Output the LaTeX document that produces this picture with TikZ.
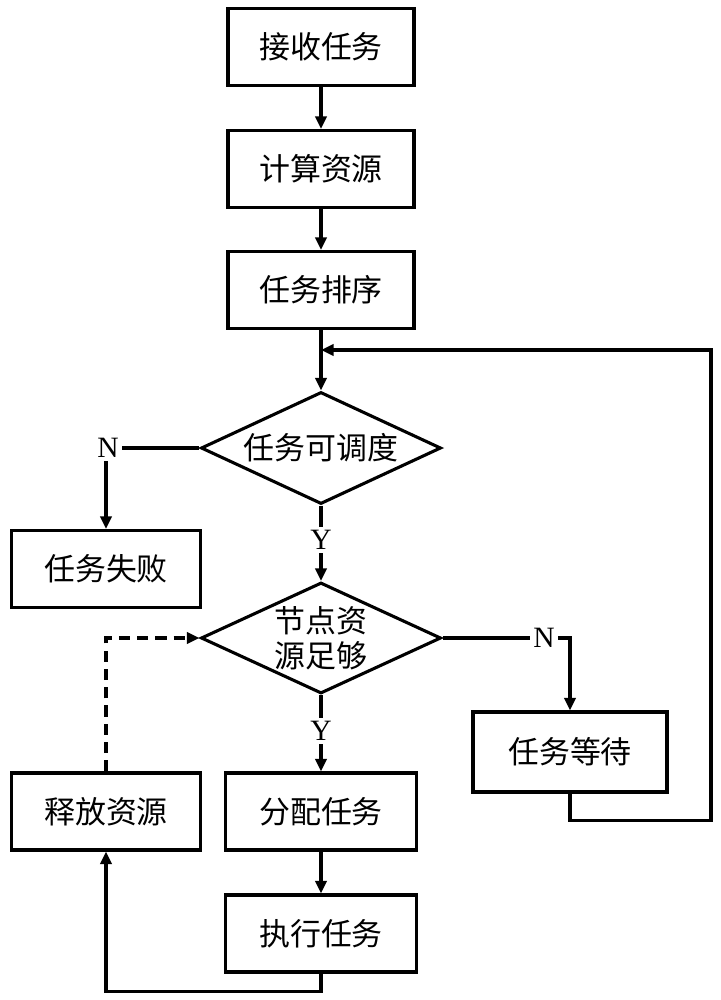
\documentclass[tikz,border=0pt]{standalone}
\usepackage{fontspec}
\usetikzlibrary{shapes.geometric,arrows.meta}
\newfontfamily\cjk{Noto Sans CJK SC}
\newfontfamily\labfont{Liberation Serif}

\begin{document}
\begin{tikzpicture}[x=0.025cm,y=-0.025cm,line width=2.2pt,
  box/.style={draw,rectangle,minimum width=4.65cm,minimum height=1.925cm,inner sep=0pt,
    font=\cjk\fontsize{22}{26}\selectfont},
  decide/.style={draw,diamond,aspect=2.16,minimum width=6cm,minimum height=2.8cm,inner sep=0pt,
    align=center,font=\cjk\fontsize{22}{25}\selectfont},
  yn/.style={inner sep=1.5pt,font=\labfont\fontsize{21}{21}\selectfont},
  arr/.style={-{Triangle[length=9pt,width=8pt]}},
  dash line/.style={dash pattern=on 8pt off 5pt}]
\useasboundingbox (0,0) rectangle (721,1000);
% main column
\node[box] (recv) at (321,47) {接收任务};
\node[box] (calc) at (321,169) {计算资源};
\node[box] (sort) at (321,290) {任务排序};
\node[decide] (sched) at (321,448) {任务可调度};
\node[decide,minimum height=2.775cm] (enough) at (321,638) {节点资\\源足够};
\node[box,minimum width=4.775cm] (alloc) at (321,811.5) {分配任务};
\node[box,minimum width=4.775cm] (exec) at (321,933.5) {执行任务};
% side boxes
\node[box,minimum width=4.725cm] (fail) at (106,569) {任务失败};
\node[box,minimum width=4.85cm,minimum height=2cm] (wait) at (570,752) {任务等待};
\node[box,minimum width=4.725cm] (release) at (106,811.5) {释放资源};
% labels
\node[yn] (n1) at (108,448) {N};
\node[yn] (y1) at (321,540) {Y};
\node[yn] (n2) at (544,638) {N};
\node[yn] (y2) at (321,731) {Y};
\coordinate (loopin) at (321,350);
\coordinate (loopcorner) at (711,350);
% connectors
\draw[arr] (recv) -- (calc);
\draw[arr] (calc) -- (sort);
\draw[arr] (sort) -- (sched);
\draw[arr] (wait.south) -- ++(0,27) -| (loopcorner) -- (loopin);
\draw (sched.west) -- (n1.east);
\draw[arr] (n1.south -| fail.north) -- (fail.north);
\draw (sched.south) -- (y1.north);
\draw[arr] (y1.south) -- (enough.north);
\draw (enough.east) -- (n2.west);
\draw[arr] (n2.east) -| (wait.north);
\draw (enough.south) -- (y2.north);
\draw[arr] (y2.south) -- (alloc.north);
\draw[arr] (alloc) -- (exec);
\draw[arr] (exec.south) -- ++(0,18) -| (release.south);
\draw[arr,dash line] (release.north) |- (enough.west);
\end{tikzpicture}
\end{document}
